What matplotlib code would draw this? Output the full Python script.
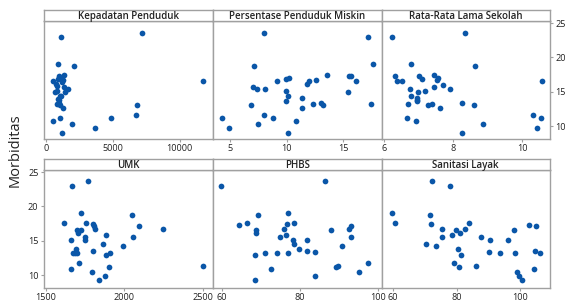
import matplotlib
matplotlib.use("Agg")
import matplotlib.pyplot as plt

plt.rcParams['font.family'] = ['Open Sans', 'DejaVu Sans']

# ---- data ----
kepadatan_x = [1122, 7183, 873, 2070, 11747, 549, 973, 1347, 1097, 923, 1297, 1172, 748, 1322, 1671,
               848, 673, 1122, 1047, 923, 798, 1072, 1247, 6784, 6709, 4838, 1047, 549, 1970, 3641,
               1172, 998, 1422, 848, 998]
kepadatan_y = [22.98, 23.61, 18.99, 18.75, 16.59, 16.59, 17.31, 17.40, 17.07, 16.92, 16.73, 16.49, 16.11, 15.67, 15.43,
               15.14, 14.95, 14.47, 14.33, 14.00, 13.22, 13.08, 12.69, 13.08, 11.59, 11.20, 11.20, 10.82, 10.34, 9.71,
               9.04, 13.85, 15.00, 15.87, 13.37]

miskin_x = [7.96, 7.13, 9.15, 7.07, 7.37, 8.05, 6.84, 7.96, 8.79, 4.29, 4.94, 7.49, 9.95, 10.18, 9.97,
            10.09, 9.91, 10.09, 11.81, 11.99, 12.64, 13.59, 15.51, 15.72, 16.10, 15.45, 17.23, 17.61, 17.50, 11.37,
            11.37, 12.34, 13.06, 13.23, 10.86]
miskin_y = [23.61, 18.75, 16.59, 15.67, 15.48, 15.48, 13.08, 11.59, 11.20, 11.20, 9.71, 10.34, 16.92, 17.07, 15.10,
            14.47, 13.70, 9.04, 16.11, 16.59, 16.68, 17.45, 17.31, 17.31, 16.59, 14.95, 22.98, 18.99, 13.17, 14.09,
            12.69, 13.17, 13.32, 13.08, 10.82]

sekolah_x = [6.23, 8.33, 6.78, 8.64, 6.32, 6.37, 6.51, 7.02, 7.09, 7.45, 7.57, 7.52, 7.72, 7.91, 6.75,
             6.98, 7.20, 7.45, 6.78, 6.96, 6.96, 6.97, 6.71, 7.26, 7.40, 7.61, 8.27, 8.61, 6.66, 6.93,
             8.85, 8.27, 10.32, 10.53, 10.41, 10.56]
sekolah_y = [22.98, 23.61, 18.99, 18.75, 17.31, 16.59, 16.59, 17.31, 16.92, 17.45, 17.07, 16.68, 16.06, 15.43, 15.43,
             14.95, 15.10, 15.67, 14.42, 14.18, 13.85, 13.70, 13.17, 13.08, 13.17, 12.69, 13.32, 13.08, 11.20, 10.82,
             10.34, 9.04, 11.59, 11.20, 9.71, 16.59]

umk_x = [1668, 1770, 1721, 1615, 1755, 1797, 1806, 1814, 1695, 1723, 1702, 1882, 1659, 1751, 1751,
         1861, 1691, 1801, 1674, 1687, 1910, 1882, 1708, 1659, 1791, 1903, 1876, 1835, 2050, 2092,
         2245, 2056, 1990, 2500, 1700]
umk_y = [22.99, 23.66, 19.01, 17.53, 17.53, 17.38, 17.14, 16.76, 16.61, 16.61, 16.14, 15.90, 15.13, 15.51, 15.13,
         14.51, 13.88, 13.50, 13.26, 13.26, 13.26, 12.88, 11.78, 10.87, 10.53, 11.25, 9.91, 9.28, 18.77, 17.14,
         16.76, 15.51, 14.27, 11.39, 13.26]

phbs_x = [59.8, 64.4, 66.4, 69.3, 68.7, 68.8, 68.5, 71.1, 72.6, 74.1, 74.8, 76.8, 76.7, 76.3, 75.8,
          76.8, 68.5, 86.3, 78.5, 78.2, 78.5, 79.6, 81.8, 81.8, 83.9, 87.9, 90.7, 92.5, 92.9, 93.1,
          89.1, 89.6, 95.0, 97.4, 83.9]
phbs_y = [22.99, 17.29, 17.53, 18.77, 16.61, 16.14, 12.88, 13.26, 10.87, 13.26, 15.51, 19.01, 17.38, 15.90, 16.76,
          13.26, 9.28, 23.66, 17.53, 15.13, 14.51, 13.88, 15.13, 13.50, 13.36, 16.61, 14.27, 16.76, 15.51, 17.14,
          11.20, 11.30, 10.53, 11.78, 9.91]

sanitasi_x = [72.2, 77.9, 59.6, 71.6, 60.5, 71.9, 83.9, 102.8, 105.2, 75.3, 79.9, 82.8, 98.2, 81.2, 78.5,
              75.3, 87.8, 90.5, 96.2, 70.5, 73.5, 80.3, 104.8, 90.2, 93.8, 98.5, 106.5, 81.3, 79.2, 86.2,
              80.9, 104.5, 99.2, 99.6, 100.6]
sanitasi_y = [23.66, 23.04, 19.01, 18.77, 17.53, 17.38, 17.53, 17.29, 17.14, 16.76, 16.61, 16.76, 16.61, 16.14, 15.90,
              15.51, 15.51, 15.13, 15.13, 14.50, 14.27, 13.88, 13.50, 13.40, 13.26, 13.26, 13.26, 12.88, 11.78, 11.34,
              11.25, 10.91, 10.53, 9.91, 9.28]

titles = ["Kepadatan Penduduk", "Persentase Penduduk Miskin", "Rata-Rata Lama Sekolah",
          "UMK", "PHBS", "Sanitasi Layak"]
xs = [kepadatan_x, miskin_x, sekolah_x, umk_x, phbs_x, sanitasi_x]
ys = [kepadatan_y, miskin_y, sekolah_y, umk_y, phbs_y, sanitasi_y]
xticks = [[0, 5000, 10000], [5, 10, 15], [6, 8, 10], [1500, 2000, 2500], [60, 80, 100], [60, 80, 100]]
xlims = [(-150, 12490), (3.49, 18.4), (5.93, 10.8), (1487, 2564), (57.7, 100.8), (56.3, 109.5)]
yticks = [10, 15, 20, 25]
ylim = (8.15, 25.3)

W, H = 566, 302
fig = plt.figure(figsize=(W / 100, H / 100), dpi=100)

col_edges = [(44, 213), (213, 381.5), (381.5, 550)]
row_edges = [(21, 139, 10), (170, 288, 159)]  # data top, data bottom, strip top

edge = '#a0a0a0'
dot = '#0a56a8'
tcol = '#222222'

for i in range(6):
    r, c = divmod(i, 3)
    x0, x1 = col_edges[c]
    top, bot, stop = row_edges[r]
    ax = fig.add_axes([x0 / W, 1 - bot / H, (x1 - x0) / W, (bot - top) / H])
    ax.scatter(xs[i], ys[i], s=17, color=dot, linewidths=0, zorder=3)
    ax.set_xlim(*xlims[i])
    ax.set_ylim(*ylim)
    ax.set_xticks(xticks[i])
    ax.set_xticklabels([str(t) for t in xticks[i]])
    for sp in ax.spines.values():
        sp.set_color(edge)
        sp.set_linewidth(1.0)
    ax.tick_params(axis='x', length=2.5, width=0.8, color=edge, labelsize=6.6, pad=0.8, labelcolor=tcol)
    ax.set_yticks(yticks)
    if i == 2:
        ax.yaxis.tick_right()
        ax.tick_params(axis='y', length=2.5, width=0.8, color=edge, labelsize=6.6, pad=1.5,
                       labelcolor=tcol, left=False, right=True)
    elif i == 3:
        ax.tick_params(axis='y', length=2.5, width=0.8, color=edge, labelsize=6.6, pad=1.5,
                       labelcolor=tcol)
    else:
        ax.tick_params(axis='y', left=False, right=False, labelleft=False, labelright=False)
    # strip
    sax = fig.add_axes([x0 / W, 1 - top / H, (x1 - x0) / W, (top - stop) / H])
    sax.set_xticks([])
    sax.set_yticks([])
    for sp in sax.spines.values():
        sp.set_color(edge)
        sp.set_linewidth(1.0)
    sax.text(0.5, 0.45, titles[i], ha='center', va='center', fontsize=7, fontweight='semibold',
             color=tcol, transform=sax.transAxes)

fig.text(15 / W, 1 - 150 / H, "Morbiditas", rotation=90, ha='center', va='center', fontsize=10.5,
         color=tcol)

fig.savefig("out.png", dpi=100)
